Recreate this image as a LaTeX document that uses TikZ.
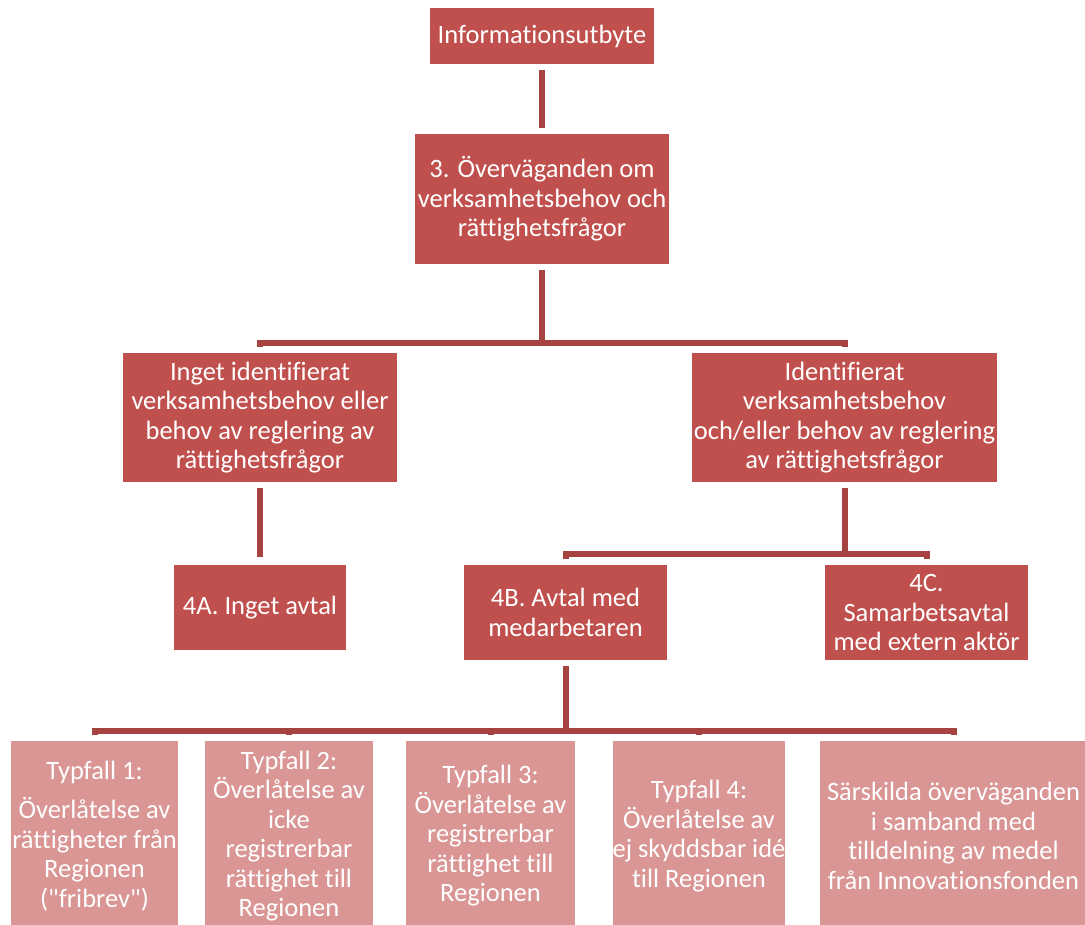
\documentclass[tikz,border=0pt]{standalone}
\usepackage{fontspec}
\setmainfont{Carlito}[Ligatures={TeXOff,NoCommon}]
\definecolor{boxred}{HTML}{C0504D}
\definecolor{boxpink}{HTML}{D99694}
\definecolor{connred}{HTML}{A6423F}
\begin{document}
\begin{tikzpicture}[x=1pt,y=-1pt,
  box/.style={fill=boxred, text=white, inner sep=0pt, align=center,
    font=\fontsize{26.5}{29.5}\selectfont},
  pbox/.style={box, fill=boxpink},
  conn/.style={draw=connred, line width=6pt, line cap=butt, line join=miter}]
\useasboundingbox (0,0) rectangle (1085,925);
% top level
\node[box, minimum width=224, minimum height=56] (info) at (542,36) {Informationsutbyte};
\node[box, minimum width=254, minimum height=130] (ov) at (542,199)
  {3. Överväganden om\\verksamhetsbehov och\\rättighetsfrågor};
% second level
\node[box, minimum width=274, minimum height=129] (inget) at (260,417.5)
  {Inget identifierat\\verksamhetsbehov eller\\behov av reglering av\\rättighetsfrågor};
\node[box, minimum width=305, minimum height=129] (ident) at (844.5,417.5)
  {Identifierat\\verksamhetsbehov\\och/eller behov av reglering\\av rättighetsfrågor};
% third level
\node[box, minimum width=172, minimum height=85] (a4) at (260,607.5) {4A. Inget avtal};
\node[box, minimum width=203, minimum height=95] (b4) at (565.5,612.5) {4B. Avtal med\\medarbetaren};
\node[box, minimum width=203, minimum height=95] (c4) at (926.5,612.5) {4C.\\Samarbetsavtal\\med extern aktör};
% bottom level
\node[pbox, minimum width=167, minimum height=190] (t1) at (94.5,836)
  {Typfall 1:\\[10pt]Överlåtelse av\\rättigheter från\\Regionen\\("fribrev")};
\node[pbox, minimum width=168, minimum height=190] (t2) at (289,836)
  {Typfall 2:\\Överlåtelse av\\icke\\registrerbar\\rättighet till\\Regionen};
\node[pbox, minimum width=169, minimum height=190] (t3) at (490.5,836)
  {Typfall 3:\\Överlåtelse av\\registrerbar\\rättighet till\\Regionen};
\node[pbox, minimum width=172, minimum height=190] (t4) at (699,836)
  {Typfall 4:\\Överlåtelse av\\ej skyddsbar idé\\till Regionen};
\node[pbox, minimum width=267, minimum height=190] (t5) at (953.5,836)
  {Särskilda överväganden\\i samband med\\tilldelning av medel\\från Innovationsfonden};
% connectors
\draw[conn] ([yshift=-6pt]info.south) -- ([yshift=6pt]ov.north);
\draw[conn] ([yshift=-6pt]ov.south) -- ([yshift=-6pt]ov.south |- 0,337)
  -| ([yshift=6pt]inget.north);
\draw[conn] ([yshift=-6pt]ov.south |- 0,337) -| ([yshift=6pt]ident.north);
\draw[conn] ([yshift=-6pt]inget.south) -- ([yshift=8pt]a4.north);
\draw[conn] ([yshift=-6pt]ident.south) -- ([yshift=-6pt]ident.south |- 0,548)
  -| ([yshift=6pt]b4.north);
\draw[conn] ([yshift=-6pt]ident.south |- 0,548) -| ([yshift=6pt]c4.north);
\draw[conn] ([yshift=-6pt]b4.south) -- ([yshift=-6pt]b4.south |- 0,725)
  -| ([yshift=6pt]t1.north);
\draw[conn] ([yshift=-6pt]b4.south |- 0,725) -| ([yshift=6pt]t2.north);
\draw[conn] ([yshift=-6pt]b4.south |- 0,725) -| ([yshift=6pt]t3.north);
\draw[conn] ([yshift=-6pt]b4.south |- 0,725) -| ([yshift=6pt]t4.north);
\draw[conn] ([yshift=-6pt]b4.south |- 0,725) -| ([yshift=6pt]t5.north);
\end{tikzpicture}
\end{document}
